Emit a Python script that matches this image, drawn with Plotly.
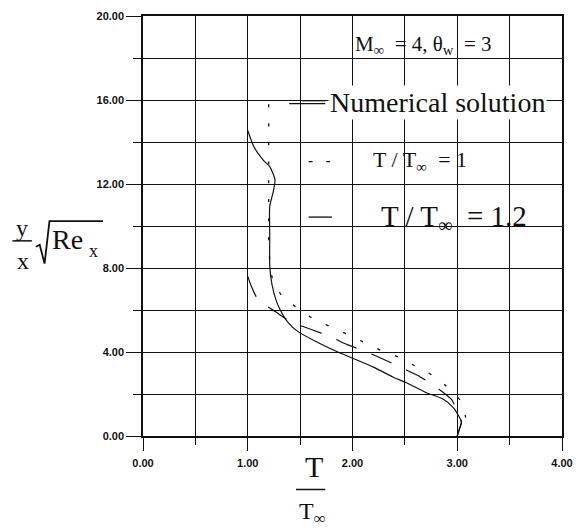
import plotly.graph_objects as go

# Numerical solution (solid)
num_T = [1.00, 1.06, 1.15, 1.21, 1.26, 1.24, 1.21, 1.21, 1.21, 1.23, 1.27, 1.31,
         1.38, 1.48, 1.65, 1.86, 2.20, 2.39, 2.51, 2.70, 2.86, 2.96, 3.00, 3.04,
         3.02, 3.00]
num_y = [14.55, 13.76, 13.13, 12.83, 12.20, 11.56, 10.95, 9.50, 8.10, 7.25, 6.47, 6.00,
         5.44, 4.97, 4.50, 4.00, 3.28, 2.80, 2.55, 2.07, 1.77, 1.36, 1.07, 0.66,
         0.35, 0.00]

# T / T_inf = 1 (short dashes)
t1_T = [1.20, 1.20, 1.20, 1.20, 1.21, 1.24, 1.33, 1.62, 1.79, 1.95, 2.11, 2.28,
        2.44, 2.60, 2.76, 2.90, 3.03, 3.08, 3.07]
t1_y = [15.80, 12.00, 10.00, 9.20, 8.35, 7.40, 6.66, 5.60, 5.20, 4.85, 4.46, 4.06,
        3.76, 3.33, 2.90, 2.35, 1.68, 0.88, 0.55]

# T / T_inf = 1.2 (long dashes)
t12_T = [1.00, 1.03, 1.10, 1.27, 1.41, 1.62, 1.77, 1.95, 2.14, 2.30, 2.45, 2.62,
         2.78, 2.95, 3.00, 3.04, 3.02, 3.00]
t12_y = [7.60, 7.18, 6.48, 5.90, 5.44, 5.05, 4.77, 4.35, 3.99, 3.64, 3.30, 2.89,
         2.39, 1.71, 1.13, 0.66, 0.30, 0.00]

x_range = [0, 4]
y_range = [0, 20]

# plot-area edges in pixels (used to place the hand-drawn labels)
L, R, T, B = 143, 573, 12, 436
W, H = 583, 530


def px(x):
    return (x - L) / (R - L)


def py(y):
    return (B - y) / (B - T)


SERIF = "Liberation Serif, Times New Roman, serif"
INK = "#111111"

fig = go.Figure()
fig.add_trace(go.Scatter(x=num_T, y=num_y, mode="lines",
                         line=dict(color=INK, width=1.2, shape="spline", smoothing=0.6)))
fig.add_trace(go.Scatter(x=t1_T, y=t1_y, mode="lines",
                         line=dict(color=INK, width=1.3, dash="3px,16px",
                                   shape="spline", smoothing=0.6)))
fig.add_trace(go.Scatter(x=t12_T, y=t12_y, mode="lines",
                         line=dict(color=INK, width=1.2, dash="22px,16px",
                                   shape="spline", smoothing=0.6)))

tickfont = dict(family="Liberation Sans, Arial, sans-serif", size=11, color=INK, weight="bold")
fig.update_xaxes(range=x_range, dtick=1, tick0=0, tickformat=".2f",
                 ticks="outside", ticklen=13, tickwidth=1.3, tickcolor=INK,
                 showgrid=True, gridcolor=INK, gridwidth=1.2, zeroline=False,
                 showline=True, linecolor=INK, linewidth=1.5, mirror=True,
                 tickfont=tickfont, ticklabelstandoff=3,
                 minor=dict(dtick=0.5, ticks="outside", ticklen=7, tickwidth=1.3,
                            tickcolor=INK, showgrid=True, gridcolor=INK, gridwidth=1.2))
fig.update_yaxes(range=y_range, dtick=4, tick0=0, tickformat=".2f",
                 ticks="outside", ticklen=15, tickwidth=1.3, tickcolor=INK,
                 showgrid=True, gridcolor=INK, gridwidth=1.2, zeroline=False,
                 showline=True, linecolor=INK, linewidth=1.5, mirror=True,
                 tickfont=tickfont,
                 minor=dict(dtick=2, ticks="outside", ticklen=8, tickwidth=1.3,
                            tickcolor=INK, showgrid=True, gridcolor=INK, gridwidth=1.2))

ann = []
shapes = []


def text(s, x, y, size, xanchor="left", bg=None):
    d = dict(text=s, x=px(x), y=py(y), xref="paper", yref="paper",
             xanchor=xanchor, yanchor="middle", showarrow=False,
             font=dict(family=SERIF, size=size, color=INK))
    if bg:
        d["bgcolor"] = bg
    ann.append(d)


def seg(x0, y0, x1, y1, w=1.3):
    shapes.append(dict(type="line", xref="paper", yref="paper",
                       x0=px(x0), y0=py(y0), x1=px(x1), y1=py(y1),
                       line=dict(color=INK, width=w)))


# key and flow conditions
text("M<sub>∞</sub>  = 4, θ<sub>w</sub>  = 3", 358, 41, 21)
text("Numerical solution", 333, 99, 28, bg="white")
seg(293, 100.5, 330, 100.5)
seg(306, 97.5, 330, 97.5)
text("T / T<sub>∞</sub>  = 1", 377, 158, 22)
seg(313, 159, 317, 159)
seg(331, 159, 335, 159)
text("T / T<sub>∞</sub>  = 1.2", 385, 216, 29)
seg(313, 215, 337, 215)

# x-axis title: T over T_inf
text("T", 318, 467, 30, xanchor="center")
seg(300, 490, 330, 490, w=1.5)
text("T<sub>∞</sub>", 317, 514, 24, xanchor="center")

# y-axis title: (y/x) sqrt(Re_x)
text("y", 19, 226, 24, xanchor="center")
seg(9, 239, 29, 239, w=1.5)
text("x", 20, 259, 24, xanchor="center")
shapes.append(dict(type="path", xref="paper", yref="paper",
                   path="M {} {} L {} {} L {} {} L {} {} L {} {}".format(
                       px(33), py(245), px(37), py(243), px(42), py(262),
                       px(47), py(219), px(102), py(219)),
                   line=dict(color=INK, width=1.8)))
text("Re", 48, 238, 28)
text("x", 86, 249, 18)

fig.update_layout(width=W, height=H, margin=dict(l=L, r=W - R, t=T, b=H - B),
                  paper_bgcolor="white", plot_bgcolor="white", showlegend=False,
                  annotations=ann, shapes=shapes)

fig.write_html("out.html")
